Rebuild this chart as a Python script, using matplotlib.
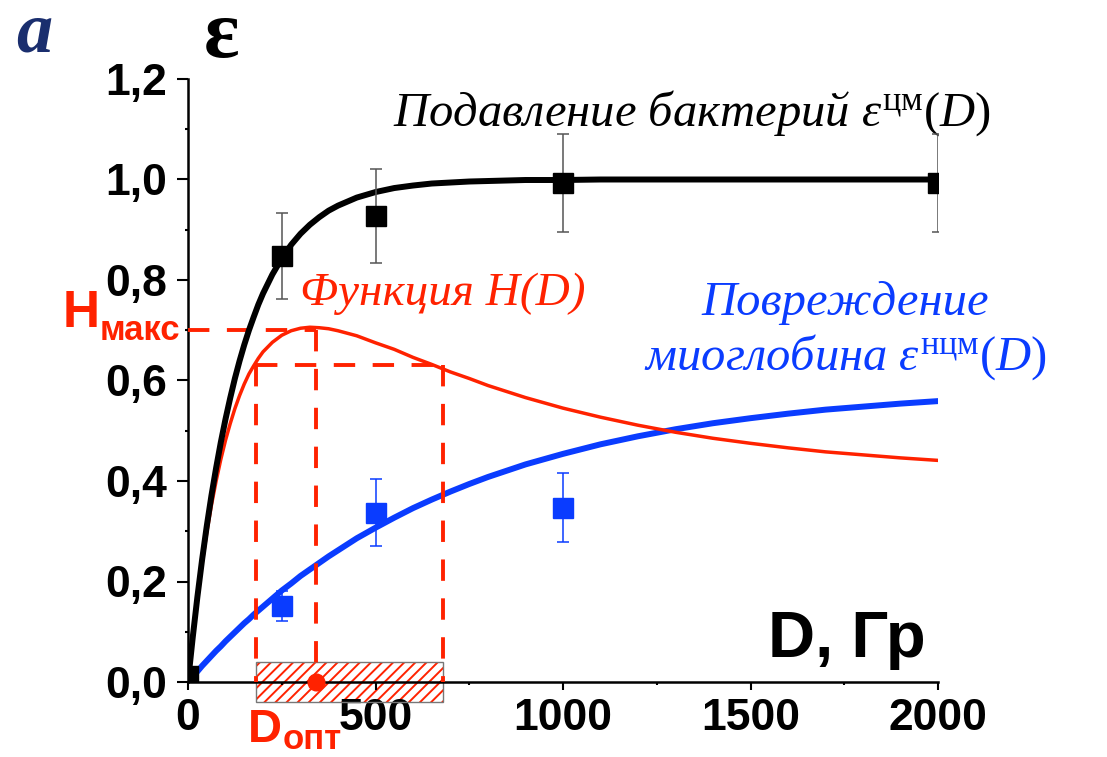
import matplotlib
matplotlib.use("Agg")
import matplotlib.pyplot as plt
from matplotlib.patches import Rectangle
from matplotlib.ticker import MultipleLocator, FuncFormatter

# fitted curves
dose = [0, 12.5, 25, 37.5, 50, 62.5, 75, 87.5, 100, 112.5, 125, 137.5, 150, 162.5,
        175, 187.5, 200, 225, 250, 275, 300, 325, 350, 375, 400, 450, 500, 550,
        600, 650, 700, 750, 800, 900, 1000, 1100, 1200, 1300, 1400, 1500, 1600,
        1700, 1800, 1900, 2000]
eps_cm = [0, 0.088, 0.169, 0.243, 0.310, 0.371, 0.426, 0.477, 0.523, 0.565, 0.604,
          0.639, 0.671, 0.700, 0.726, 0.751, 0.773, 0.811, 0.843, 0.870, 0.892,
          0.910, 0.925, 0.938, 0.948, 0.964, 0.975, 0.983, 0.988, 0.992, 0.994,
          0.996, 0.997, 0.999, 0.999, 1.0, 1.0, 1.0, 1.0, 1.0, 1.0, 1.0, 1.0, 1.0, 1.0]
eps_ncm = [0, 0.011, 0.021, 0.032, 0.042, 0.052, 0.062, 0.071, 0.081, 0.090, 0.099,
           0.108, 0.117, 0.125, 0.134, 0.142, 0.150, 0.166, 0.182, 0.196, 0.211,
           0.224, 0.237, 0.250, 0.262, 0.286, 0.307, 0.327, 0.346, 0.363, 0.379,
           0.394, 0.408, 0.433, 0.454, 0.473, 0.489, 0.503, 0.515, 0.525, 0.534,
           0.542, 0.548, 0.554, 0.559]
h_func = [0, 0.087, 0.165, 0.235, 0.297, 0.352, 0.400, 0.443, 0.481, 0.514, 0.544,
          0.570, 0.593, 0.613, 0.629, 0.644, 0.657, 0.676, 0.690, 0.699, 0.704,
          0.706, 0.705, 0.703, 0.699, 0.689, 0.675, 0.662, 0.646, 0.632, 0.617,
          0.604, 0.590, 0.566, 0.545, 0.527, 0.511, 0.497, 0.485, 0.475, 0.466,
          0.458, 0.452, 0.446, 0.441]

# measured points
supp_dose = [0, 250, 500, 1000, 2000]
supp_val = [0.012, 0.848, 0.927, 0.993, 0.993]
supp_err = [0, 0.085, 0.093, 0.098, 0.098]
dmg_dose = [250, 500, 1000]
dmg_val = [0.152, 0.337, 0.347]
dmg_err = [0.030, 0.066, 0.068]

# optimum
d_opt = 340
h_max = 0.70
h_level = 0.63
d_low, d_high = 181, 680

RED = "#ff2200"
BLUE = "#0a3cff"
SANS = "Liberation Sans"
SERIF = "Liberation Serif"

plt.rcParams["mathtext.fontset"] = "custom"
plt.rcParams["mathtext.rm"] = SERIF
plt.rcParams["mathtext.it"] = SERIF + ":italic"
plt.rcParams["hatch.linewidth"] = 1.4

fig = plt.figure(figsize=(11.07, 7.57), dpi=100)
ax = fig.add_axes([188 / 1107, 1 - 682 / 757, 750 / 1107, 603 / 757])

ax.plot(dose, eps_ncm, color=BLUE, lw=4.3, zorder=3)
ax.plot(dose, h_func, color=RED, lw=2.5, zorder=4)
ax.plot(dose, eps_cm, color="black", lw=4.3, zorder=5)

ax.errorbar(supp_dose, supp_val, yerr=supp_err, fmt="s", color="black", ms=15,
            ecolor="#555555", elinewidth=1.1, capsize=4.3, capthick=1.1, zorder=6)
ax.errorbar(dmg_dose, dmg_val, yerr=dmg_err, fmt="s", color=BLUE, ms=15,
            ecolor=BLUE, elinewidth=1.1, capsize=4.3, capthick=1.1, zorder=6)

dash = dict(color=RED, lw=2.8, dashes=(5.5, 4.5), zorder=4.5, clip_on=False)
ax.plot([0, d_opt], [h_max, h_max], **dash)
ax.plot([d_opt, d_opt], [h_max, 0], **dash)
ax.plot([d_low, d_high], [h_level, h_level], **dash)
ax.plot([d_low, d_low], [h_level, 0], **dash)
ax.plot([d_high, d_high], [h_level, 0], **dash)

ax.add_patch(Rectangle((d_low, -0.04), d_high - d_low, 0.08, facecolor="white",
                       edgecolor=RED, hatch="///", lw=0, clip_on=False, zorder=1.5))
ax.add_patch(Rectangle((d_low, -0.04), d_high - d_low, 0.08, fill=False,
                       edgecolor="#777777", lw=1, clip_on=False, zorder=1.6))
ax.plot([d_opt], [0], "o", color=RED, ms=12, clip_on=False, zorder=7)

ax.set_xlim(0, 2000)
ax.set_ylim(0, 1.2)
for s in ["top", "right"]:
    ax.spines[s].set_visible(False)
for s in ["left", "bottom"]:
    ax.spines[s].set_linewidth(1.8)
ax.xaxis.set_major_locator(MultipleLocator(500))
ax.xaxis.set_minor_locator(MultipleLocator(250))
ax.yaxis.set_major_locator(MultipleLocator(0.2))
ax.yaxis.set_minor_locator(MultipleLocator(0.1))
ax.yaxis.set_major_formatter(FuncFormatter(lambda v, p: f"{v:.1f}".replace(".", ",")))
ax.tick_params(axis="x", which="major", direction="out", length=5.5, width=1.5, pad=6)
ax.tick_params(axis="y", which="major", direction="out", length=8, width=1.5, pad=7)
ax.tick_params(which="minor", direction="out", length=2.5, width=1.5)
for lab in ax.get_xticklabels() + ax.get_yticklabels():
    lab.set_fontfamily(SANS)
    lab.set_fontweight("bold")
    lab.set_fontsize(32)

ax.text(547, 1.108, r"Подавление бактерий $\varepsilon^{\mathrm{цм}}(D)$",
        family=SERIF, style="italic", fontsize=35, color="black", va="baseline")
ax.text(299, 0.750, "Функция H(D)", family=SERIF, style="italic", fontsize=34,
        color=RED, va="baseline")
ax.text(1752, 0.730, "Повреждение", family=SERIF, style="italic", fontsize=35,
        color=BLUE, va="baseline", ha="center")
ax.text(1752, 0.621, r"миоглобина $\varepsilon^{\mathrm{нцм}}(D)$", family=SERIF,
        style="italic", fontsize=35, color=BLUE, va="baseline", ha="center")
ax.text(1547, 0.050, "D, Гр", family=SANS, weight="bold", fontsize=47, va="baseline")

ax.text(-235, 0.706, "H", family=SANS, weight="bold", fontsize=37, color=RED,
        ha="right", va="baseline", clip_on=False)
ax.text(-235, 0.681, "макс", family=SANS, weight="bold", fontsize=25, color=RED,
        ha="left", va="baseline", clip_on=False)
ax.text(160, -0.119, "D", family=SANS, weight="bold", fontsize=34, color=RED,
        va="baseline", clip_on=False)
ax.text(253, -0.133, "опт", family=SANS, weight="bold", fontsize=25, color=RED,
        va="baseline", clip_on=False)

fig.text(222 / 1107, 1 - 57 / 757, "ε", family=SERIF, weight="bold", fontsize=60,
         ha="center", va="baseline")
fig.text(16 / 1107, 1 - 51 / 757, "a", family=SERIF, weight="bold", style="italic",
         fontsize=52, color="#1a2e6e", va="baseline")

fig.savefig("out.png", dpi=100)
